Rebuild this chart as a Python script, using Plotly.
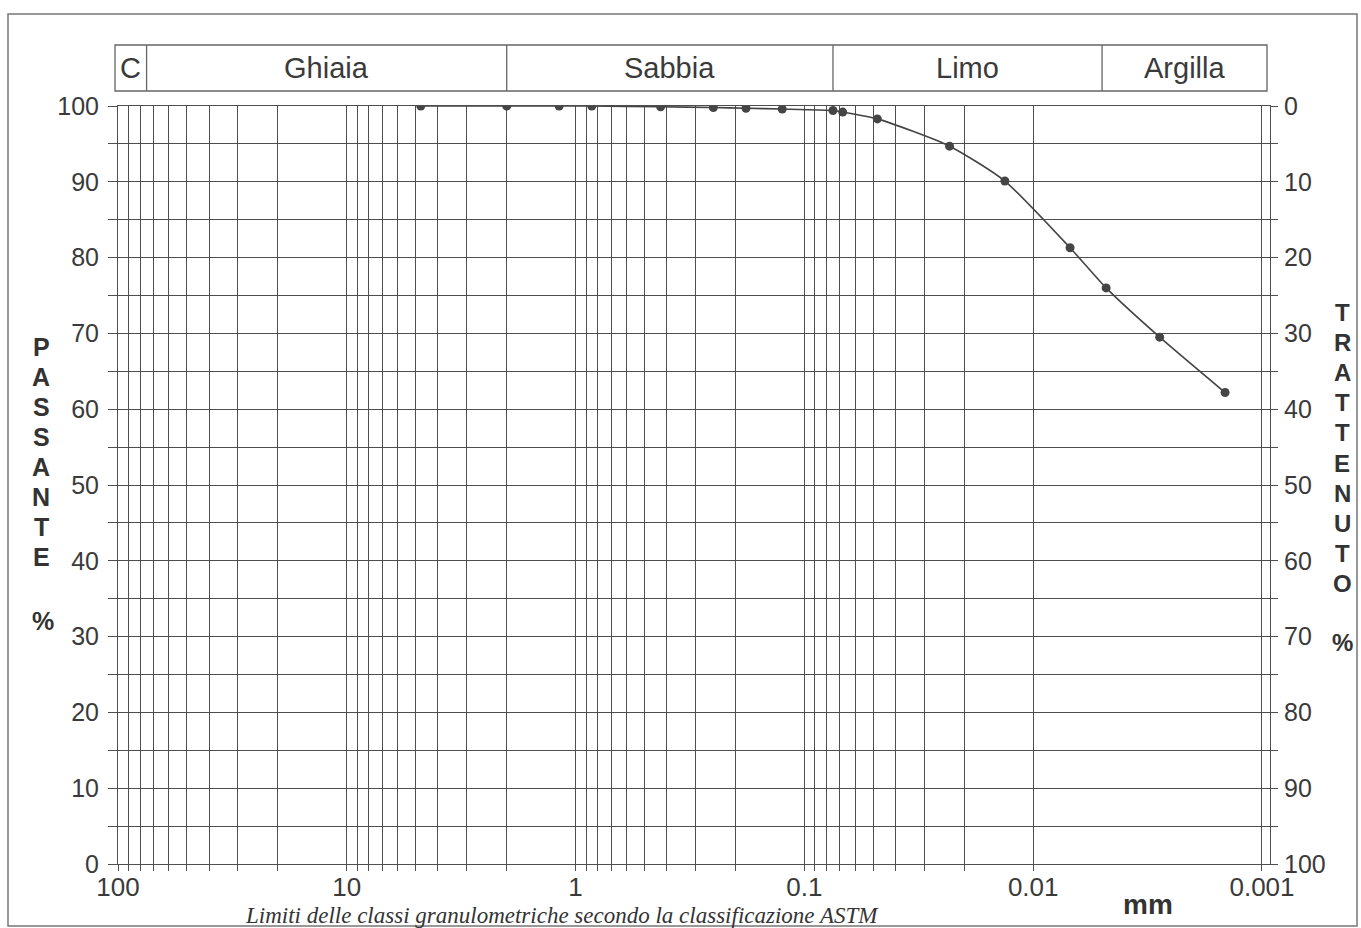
import math
import plotly.graph_objects as go

# ---------------- data ----------------
diam_mm = [4.75, 2.0, 1.18, 0.85, 0.425, 0.25, 0.18, 0.125, 0.075, 0.068,
           0.048, 0.0232, 0.0133, 0.0069, 0.0048, 0.0028, 0.00145]
passante = [100, 100, 100, 100, 99.9, 99.8, 99.7, 99.6, 99.4, 99.2,
            98.3, 94.7, 90.1, 81.3, 76.0, 69.5, 62.2]
trattenuto = [round(100 - p, 1) for p in passante]

class_names = ["C", "Ghiaia", "Sabbia", "Limo", "Argilla"]
class_limits = [75, 2.0, 0.075, 0.005]          # mm, ASTM limits

decade_labels = ["100", "10", "1", "0.1", "0.01", "0.001"]
y_ticks = list(range(0, 101, 5))

left_title = "PASSANTE"
right_title = "TRATTENUTO"
caption = "Limiti delle classi granulometriche secondo la classificazione ASTM"

# ---------------- layout geometry (pixels) ----------------
W_FIG, H_FIG = 1361, 928
L, R, T, B = 118, 1270, 106, 864
PW, PH = R - L, B - T
X_LOG_RANGE = [2.0, -3.035]

def px(xp):
    return (xp - L) / PW

def py(yp):
    return (B - yp) / PH

GRID = "#4e4e4e"
TXT = "#3a3a3a"
FONT = "Liberation Sans, Arial, sans-serif"

# x tick values: every digit in every decade
x_tickvals, x_ticktext = [], []
for e in range(2, -4, -1):
    for d in range(1, 10):
        v = d * 10.0 ** e
        if v > 100 + 1e-9:
            continue
        if e == -3 and d > 1:
            continue
        x_tickvals.append(v)
        x_ticktext.append(decade_labels[2 - e] if d == 1 else "")

y_ticktext = [str(v) if v % 10 == 0 else "" for v in y_ticks]
y2_ticktext = [str(v) if v % 10 == 0 else "" for v in y_ticks]

fig = go.Figure()
fig.add_trace(go.Scatter(
    x=diam_mm, y=passante, mode="lines+markers",
    line=dict(color="#444444", width=1.6, shape="spline", smoothing=0.6),
    marker=dict(color="#454545", size=9),
    showlegend=False, hoverinfo="x+y",
))
# same points read on the right (trattenuto) scale; invisible, anchors the right axis
fig.add_trace(go.Scatter(
    x=diam_mm, y=trattenuto, yaxis="y2", mode="markers",
    marker=dict(color="rgba(0,0,0,0)", size=1),
    showlegend=False, hoverinfo="skip",
))

fig.update_layout(
    width=W_FIG, height=H_FIG,
    margin=dict(l=L, r=W_FIG - R, t=T, b=H_FIG - B, autoexpand=False),
    paper_bgcolor="white", plot_bgcolor="white",
    font=dict(family=FONT, color=TXT),
    xaxis=dict(
        type="log", range=X_LOG_RANGE,
        tickmode="array", tickvals=x_tickvals, ticktext=x_ticktext,
        showgrid=True, gridcolor=GRID, gridwidth=1,
        ticks="outside", ticklen=6, tickcolor=GRID, tickwidth=1,
        tickfont=dict(size=26, color=TXT, family=FONT),
        ticklabelstandoff=-6,
        showline=True, linecolor=GRID, linewidth=1, mirror=True,
        zeroline=False, fixedrange=True,
    ),
    yaxis=dict(
        range=[0, 100],
        tickmode="array", tickvals=y_ticks, ticktext=y_ticktext,
        showgrid=True, gridcolor=GRID, gridwidth=1,
        ticks="outside", ticklen=9, tickcolor=GRID, tickwidth=1,
        tickfont=dict(size=25, color=TXT, family=FONT),
        ticklabelstandoff=4,
        showline=True, linecolor=GRID, linewidth=1, mirror=True,
        zeroline=False, fixedrange=True,
    ),
    yaxis2=dict(
        overlaying="y", side="right", range=[100, 0],
        tickmode="array", tickvals=y_ticks, ticktext=y2_ticktext,
        showgrid=False, ticks="outside", ticklen=7, tickcolor=GRID, tickwidth=1,
        tickfont=dict(size=25, color=TXT, family=FONT),
        ticklabelstandoff=1,
        showline=False, zeroline=False, fixedrange=True,
    ),
)

shapes = []
annotations = []

# header band with soil classes
hdr_top, hdr_bot = 45, 91
shapes.append(dict(type="rect", xref="paper", yref="paper",
                   x0=px(115), x1=px(1267), y0=py(hdr_bot), y1=py(hdr_top),
                   line=dict(color="#666666", width=1.3)))
for lim in class_limits:
    shapes.append(dict(type="line", xref="x", yref="paper",
                       x0=lim, x1=lim, y0=py(hdr_bot), y1=py(hdr_top),
                       line=dict(color="#666666", width=1.3)))

span = X_LOG_RANGE[0] - X_LOG_RANGE[1]
edges_log = ([X_LOG_RANGE[0] - (115 - L) / PW * span]
             + [math.log10(v) for v in class_limits]
             + [X_LOG_RANGE[0] - (1267 - L) / PW * span])
for i, name in enumerate(class_names):
    xc = (edges_log[i] + edges_log[i + 1]) / 2
    annotations.append(dict(text=name, x=xc, xref="x", y=py(68), yref="paper",
                            showarrow=False, xanchor="center", yanchor="middle",
                            font=dict(size=29, color=TXT, family=FONT)))

# vertical titles, one letter per line
BOLD = dict(color="#333333", family=FONT, weight="bold")
for i, ch in enumerate(left_title):
    annotations.append(dict(text=ch, x=px(41), y=py(347 + 30 * i), xref="paper", yref="paper",
                            showarrow=False, xanchor="center", yanchor="middle",
                            font=dict(size=25, **BOLD)))
annotations.append(dict(text="%", x=px(43), y=py(621), xref="paper", yref="paper",
                        showarrow=False, xanchor="center", yanchor="middle",
                        font=dict(size=25, **BOLD)))
for i, ch in enumerate(right_title):
    annotations.append(dict(text=ch, x=px(1342), y=py(312 + 30.2 * i), xref="paper", yref="paper",
                            showarrow=False, xanchor="center", yanchor="middle",
                            font=dict(size=24, **BOLD)))
annotations.append(dict(text="%", x=px(1342), y=py(642), xref="paper", yref="paper",
                        showarrow=False, xanchor="center", yanchor="middle",
                        font=dict(size=24, **BOLD)))

# unit and caption
annotations.append(dict(text="mm", x=px(1148), y=py(904), xref="paper", yref="paper",
                        showarrow=False, xanchor="center", yanchor="middle",
                        font=dict(size=28, **BOLD)))
annotations.append(dict(text="<i>" + caption + "</i>", x=px(562), y=py(915), xref="paper", yref="paper",
                        showarrow=False, xanchor="center", yanchor="middle",
                        font=dict(size=23, color="#333333", family="Liberation Serif, Times New Roman, serif")))

# outer frame of the sheet
shapes.append(dict(type="rect", xref="paper", yref="paper",
                   x0=px(8), x1=px(1357), y0=py(926), y1=py(14),
                   line=dict(color="#777777", width=1.5)))

fig.update_layout(shapes=shapes, annotations=annotations)
fig.write_html(
    "out.html",
    config={"displayModeBar": False},
    post_script="document.body.style.margin='0px';document.body.style.overflow='hidden';",
)
